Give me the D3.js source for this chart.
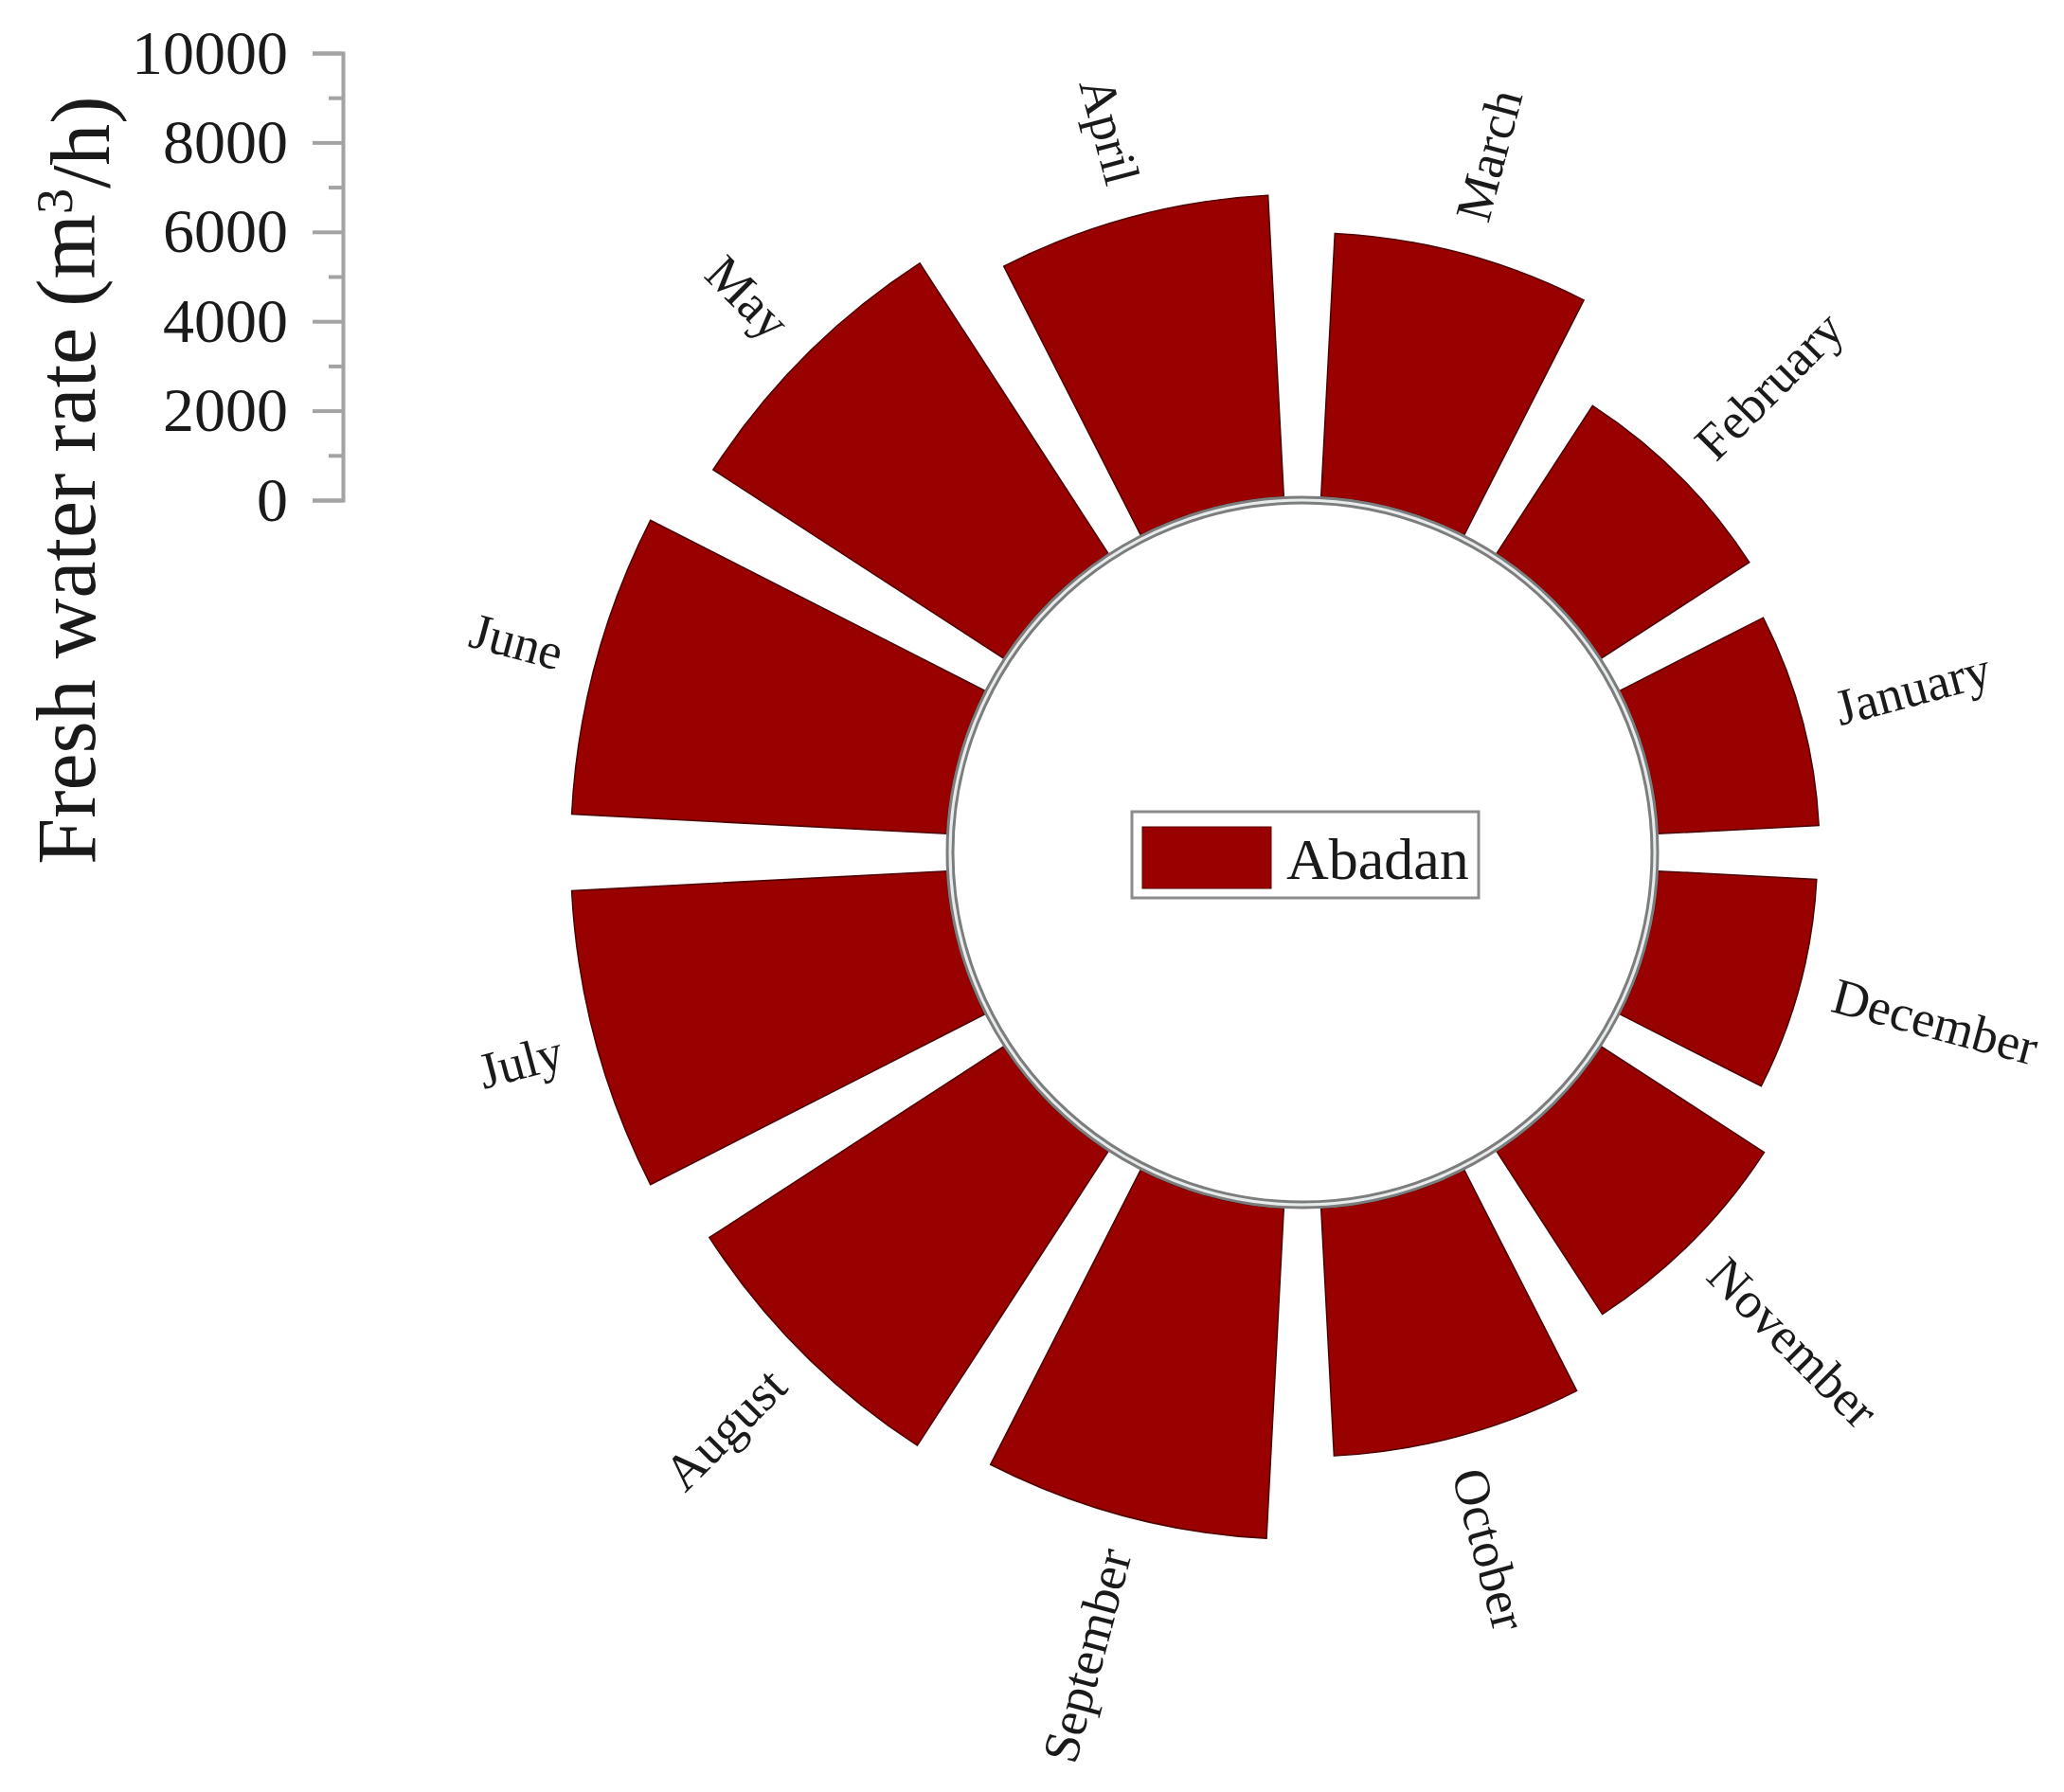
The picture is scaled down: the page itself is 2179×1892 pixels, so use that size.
<!DOCTYPE html>
<html>
<head>
<meta charset="utf-8">
<script src="https://cdn.jsdelivr.net/npm/d3@7"></script>
<style>
  body { margin: 0; background: #fff; }
  text { font-family: "Liberation Serif", "Times New Roman", serif; fill: #1a1a1a; }
</style>
</head>
<body>
<div id="chart"></div>
<script>
// monthly fresh water rate, Abadan (m3/h)
const months = ["January", "February", "March", "April", "May", "June",
                "July", "August", "September", "October", "November", "December"];
const waterRate = [3600, 3950, 5900, 6750, 7750, 8400, 8400, 7850, 7400, 5550, 4350, 3550];
const majorTicks = [0, 2000, 4000, 6000, 8000, 10000];
const minorTicks = [1000, 3000, 5000, 7000, 9000];
const seriesName = "Abadan";

const width = 2179, height = 1892;
const cx = 1375, cy = 900;
const ringR = 372, innerR = 376;
const barColor = "#990000";

const svg = d3.select("#chart").append("svg")
    .attr("width", width)
    .attr("height", height);

// value scales: the radial bars use the same pixel length as the side axis
const y = d3.scaleLinear().domain([0, 10000]).range([528, 56]);
const r = d3.scaleLinear().domain([0, 10000]).range([innerR, innerR + (y(0) - y(10000))]);

// angle: January starts at 3 o'clock and months go anticlockwise
const angle = d3.scaleBand()
    .domain(months)
    .range([Math.PI / 2, Math.PI / 2 - 2 * Math.PI])
    .paddingInner(0.2)
    .paddingOuter(0.1);

const data = months.map((m, i) => ({month: m, value: waterRate[i]}));

const arc = d3.arc()
    .innerRadius(innerR)
    .outerRadius(d => r(d.value))
    .startAngle(d => angle(d.month))
    .endAngle(d => angle(d.month) + angle.bandwidth());

const g = svg.append("g").attr("transform", `translate(${cx},${cy})`);

g.selectAll("path.bar")
    .data(data)
    .enter().append("path")
    .attr("class", "bar")
    .attr("d", arc)
    .attr("fill", barColor)
    .attr("stroke", "#4d0000")
    .attr("stroke-width", 1.5);

// inner ring (grey double line)
g.append("circle").attr("r", ringR)
    .attr("fill", "#fff").attr("stroke", "#7d7d7d").attr("stroke-width", 9);
g.append("circle").attr("r", ringR)
    .attr("fill", "none").attr("stroke", "#e6ecec").attr("stroke-width", 3);

// month labels, radial
g.selectAll("text.month")
    .data(data)
    .enter().append("text")
    .attr("class", "month")
    .attr("font-size", 54)
    .attr("dy", "0.33em")
    .attr("transform", d => {
        const a = angle(d.month) + angle.bandwidth() / 2;   // d3 angle, 0 = up, clockwise
        const deg = a * 180 / Math.PI - 90;                    // svg rotation of outward direction
        const rr = r(d.value) + 37;
        const x = rr * Math.sin(a), yy = -rr * Math.cos(a);
        const left = Math.sin(a) < 0;
        return `translate(${x},${yy}) rotate(${left ? deg + 180 : deg})`;
    })
    .attr("text-anchor", d => {
        const a = angle(d.month) + angle.bandwidth() / 2;
        return Math.sin(a) < 0 ? "end" : "start";
    })
    .text(d => d.month);

// legend in the middle
const lg = svg.append("g").attr("transform", "translate(1195,857)");
lg.append("rect")
    .attr("width", 366).attr("height", 91)
    .attr("fill", "#fff").attr("stroke", "#8c8c8c").attr("stroke-width", 3);
lg.append("rect")
    .attr("x", 11).attr("y", 16).attr("width", 136).attr("height", 65)
    .attr("fill", barColor).attr("stroke", "#5a0000").attr("stroke-width", 1);
lg.append("text")
    .attr("x", 163).attr("y", 71)
    .attr("font-size", 62)
    .text(seriesName);

// side value axis
const axisX = 362;
const axisG = svg.append("g")
    .attr("transform", `translate(${axisX},0)`)
    .call(d3.axisLeft(y).tickValues(majorTicks).tickFormat(d3.format("d"))
        .tickSize(32).tickSizeOuter(32).tickPadding(26));
axisG.selectAll("path, line").attr("stroke", "#a3a3a3").attr("stroke-width", 4);
axisG.selectAll("text").attr("font-size", 66).attr("font-family", "Liberation Serif").attr("fill", "#1a1a1a");

const minorG = svg.append("g")
    .attr("transform", `translate(${axisX},0)`)
    .call(d3.axisLeft(y).tickValues(minorTicks).tickFormat("").tickSize(15).tickSizeOuter(0));
minorG.select(".domain").remove();
minorG.selectAll("line").attr("stroke", "#a3a3a3").attr("stroke-width", 4);

const title = svg.append("text")
    .attr("transform", "translate(100,507) rotate(-90)")
    .attr("text-anchor", "middle")
    .attr("font-size", 88);
title.append("tspan").text("Fresh water rate (m");
title.append("tspan").attr("dy", "-0.45em").attr("font-size", 54).text("3");
title.append("tspan").attr("dy", "0.45em").text("/h)");
</script>
</body>
</html>
